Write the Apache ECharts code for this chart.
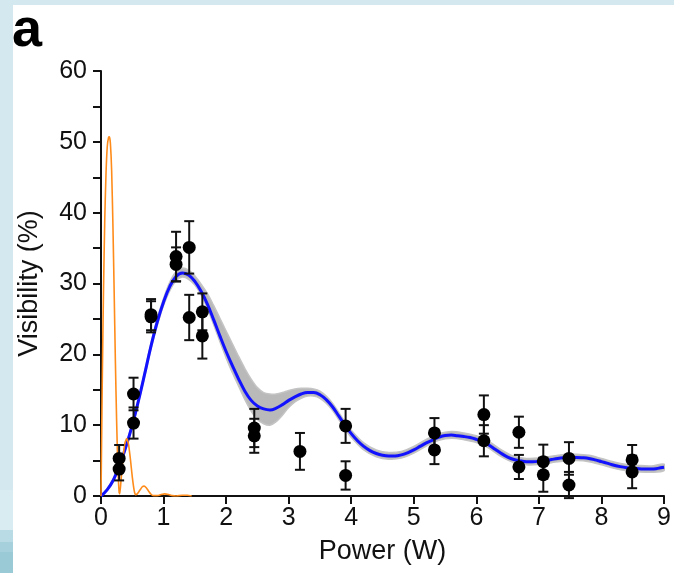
<!DOCTYPE html>
<html>
<head>
<meta charset="utf-8">
<script src="https://cdn.jsdelivr.net/npm/echarts@6/dist/echarts.min.js"></script>
<style>
  html, body { margin: 0; padding: 0; }
  body { width: 674px; height: 573px; background: #d3e8ef; position: relative; overflow: hidden; }
  #paper { position: absolute; left: 13px; top: 5px; right: 0; bottom: 0; background: #ffffff; }
  .strip { position: absolute; left: 0; width: 13px; }
  #chart { position: absolute; left: 0; top: 0; width: 674px; height: 573px; }
</style>
</head>
<body>
<div id="paper"></div>
<div class="strip" style="top:490px;height:40px;background:#d9ecf2;"></div>
<div class="strip" style="top:530px;height:12px;background:#b9dbe5;"></div>
<div class="strip" style="top:542px;height:10px;background:#a6d0dc;"></div>
<div class="strip" style="top:552px;height:21px;background:#9bcad7;"></div>
<div id="chart"></div>
<script>
// ---- data ----
const panelLabel = 'a';
const xAxisTitle = 'Power (W)';
const yAxisTitle = 'Visibility (%)';

// measured points: power (W), visibility (%), error (%)
const ptX = [0.29, 0.29, 0.52, 0.52, 0.80, 0.80, 1.20, 1.20, 1.41, 1.41, 1.62, 1.62, 2.45, 2.45, 3.18, 3.91, 3.91, 5.33, 5.33, 6.12, 6.12, 6.68, 6.68, 7.07, 7.07, 7.48, 7.48, 8.49, 8.49];
const ptY = [5.3, 3.8, 14.4, 10.3, 25.6, 25.3, 33.8, 32.7, 35.1, 25.2, 26.0, 22.6, 9.6, 8.5, 6.3, 9.9, 2.9, 8.9, 6.5, 11.5, 7.8, 9.0, 4.1, 4.85, 3.0, 5.3, 1.55, 5.1, 3.4];
const ptErr = [1.9, 1.6, 2.3, 2.2, 2.2, 2.2, 3.5, 2.4, 3.7, 3.2, 2.6, 3.2, 2.7, 2.4, 2.6, 2.4, 2.0, 2.1, 2.0, 2.7, 2.2, 2.2, 1.7, 2.4, 2.4, 2.3, 1.85, 2.1, 2.3];

// fitted curve (blue)
const fitCurve = [[0,0],[0.1,0.9],[0.2,2.3],[0.3,4.4],[0.4,7.0],[0.5,10.0],[0.6,13.5],[0.7,17.3],[0.8,21.2],[0.9,24.6],[1.0,27.4],[1.1,29.6],[1.2,31.0],[1.3,31.5],[1.4,31.2],[1.5,30.3],[1.6,28.9],[1.7,27.1],[1.8,24.9],[1.9,22.6],[2.0,20.4],[2.1,18.4],[2.2,16.5],[2.3,14.8],[2.4,13.5],[2.5,12.7],[2.6,12.3],[2.7,12.15],[2.8,12.4],[2.9,12.9],[3.0,13.5],[3.1,14.0],[3.2,14.4],[3.3,14.6],[3.4,14.6],[3.5,14.3],[3.6,13.6],[3.7,12.6],[3.8,11.3],[3.9,10.0],[4.0,8.8],[4.1,7.8],[4.2,7.0],[4.3,6.4],[4.4,6.0],[4.5,5.75],[4.6,5.65],[4.7,5.65],[4.8,5.8],[4.9,6.1],[5.0,6.5],[5.1,7.0],[5.2,7.5],[5.3,7.9],[5.4,8.3],[5.5,8.55],[5.6,8.6],[5.7,8.5],[5.8,8.4],[5.9,8.25],[6.0,8.0],[6.1,7.7],[6.2,7.2],[6.3,6.6],[6.4,6.0],[6.5,5.5],[6.6,5.15],[6.7,4.95],[6.8,4.85],[6.9,4.85],[7.0,4.9],[7.1,5.0],[7.2,5.15],[7.3,5.3],[7.4,5.4],[7.5,5.45],[7.6,5.45],[7.7,5.4],[7.8,5.3],[7.9,5.1],[8.0,4.85],[8.1,4.6],[8.2,4.35],[8.3,4.15],[8.4,4.0],[8.5,3.9],[8.6,3.85],[8.7,3.8],[8.8,3.8],[8.9,3.9],[9.0,4.05]];

// confidence band (grey): upper and lower edges
const bandUpper = [[0,0],[0.1,1.0],[0.2,2.5],[0.3,4.6],[0.4,7.3],[0.5,10.3],[0.6,13.8],[0.7,17.7],[0.8,21.6],[0.9,25.1],[1.0,27.9],[1.1,30.2],[1.2,31.7],[1.3,32.2],[1.4,31.9],[1.5,31.1],[1.6,29.9],[1.7,28.6],[1.8,26.9],[1.9,25.1],[2.0,23.3],[2.1,21.5],[2.2,19.7],[2.3,18.0],[2.4,16.5],[2.5,15.3],[2.6,14.6],[2.7,14.4],[2.8,14.4],[2.9,14.6],[3.0,14.9],[3.1,15.1],[3.2,15.2],[3.3,15.2],[3.4,15.1],[3.5,14.8],[3.6,14.1],[3.7,13.1],[3.8,11.8],[3.9,10.5],[4.0,9.3],[4.2,7.5],[4.4,6.5],[4.6,6.15],[4.8,6.3],[5.0,7.0],[5.2,8.0],[5.4,8.8],[5.6,9.1],[5.8,8.9],[6.0,8.5],[6.2,7.7],[6.4,6.5],[6.6,5.6],[6.8,5.3],[7.0,5.35],[7.2,5.6],[7.4,5.85],[7.6,5.9],[7.8,5.75],[8.0,5.3],[8.2,4.8],[8.4,4.45],[8.6,4.3],[8.8,4.25],[9.0,4.5]];
const bandLower = [[0,0],[0.1,0.8],[0.2,2.1],[0.3,4.2],[0.4,6.7],[0.5,9.7],[0.6,13.2],[0.7,16.9],[0.8,20.8],[0.9,24.1],[1.0,26.9],[1.1,29.0],[1.2,30.4],[1.3,30.9],[1.4,30.6],[1.5,29.8],[1.6,28.4],[1.7,26.5],[1.8,24.2],[1.9,21.8],[2.0,19.5],[2.1,17.4],[2.2,15.5],[2.3,13.6],[2.4,12.0],[2.5,10.8],[2.6,10.2],[2.7,10.0],[2.8,10.5],[2.9,11.4],[3.0,12.5],[3.1,13.3],[3.2,13.8],[3.3,14.1],[3.4,14.1],[3.5,13.8],[3.6,13.1],[3.7,12.1],[3.8,10.8],[3.9,9.5],[4.0,8.3],[4.2,6.5],[4.4,5.55],[4.6,5.2],[4.8,5.35],[5.0,6.05],[5.2,7.05],[5.4,7.85],[5.6,8.15],[5.8,7.95],[6.0,7.55],[6.2,6.75],[6.4,5.55],[6.6,4.7],[6.8,4.4],[7.0,4.45],[7.2,4.7],[7.4,4.95],[7.6,5.0],[7.8,4.85],[8.0,4.4],[8.2,3.9],[8.4,3.55],[8.6,3.4],[8.8,3.35],[9.0,3.6]];

// orange reference curve
const orangeCurve = [[0,0],[0.01,8],[0.02,16],[0.04,29],[0.06,39],[0.08,45.5],[0.10,49.3],[0.12,50.6],[0.135,50.7],[0.15,49.8],[0.17,46],[0.19,38.5],[0.21,29],[0.23,19],[0.25,10.5],[0.27,4],[0.29,0.5],[0.30,0.3],[0.32,2.2],[0.35,5.2],[0.38,7.4],[0.41,8.1],[0.44,7.3],[0.47,5.2],[0.50,2.7],[0.53,0.8],[0.55,0.2],[0.58,0.3],[0.62,0.8],[0.66,1.3],[0.69,1.4],[0.72,1.2],[0.76,0.7],[0.80,0.25],[0.84,0.05],[0.90,0.05],[0.96,0.2],[1.02,0.3],[1.08,0.2],[1.14,0.05],[1.2,0],[1.3,0.1],[1.38,0.1],[1.45,0]];

const xMin = 0, xMax = 9, xStep = 1;
const yMin = 0, yMax = 60, yStep = 10;

// ---- chart ----
const FONT = '"Liberation Sans", Arial, Helvetica, sans-serif';
const chart = echarts.init(document.getElementById('chart'), null, { renderer: 'canvas' });

const pointData = ptX.map((x, i) => [x, ptY[i], ptErr[i]]);

const option = {
  backgroundColor: 'transparent',
  animation: false,
  graphic: [{
    type: 'text', left: 12, top: 4,
    style: { text: panelLabel, font: 'bold 54px ' + FONT, fill: '#000' }
  }],
  grid: { left: 101, right: 6, top: 71, bottom: 77, containLabel: false },
  xAxis: {
    type: 'value', min: xMin, max: xMax, interval: xStep,
    name: xAxisTitle, nameLocation: 'middle', nameGap: 42,
    nameTextStyle: { fontSize: 27, color: '#111', fontFamily: FONT },
    axisLine: { show: true, onZero: false, lineStyle: { color: '#111', width: 2 } },
    axisTick: { show: true, inside: false, length: 8, lineStyle: { color: '#111', width: 2 } },
    axisLabel: { fontSize: 25, color: '#111', fontFamily: FONT, margin: 10 },
    splitLine: { show: false }
  },
  yAxis: {
    type: 'value', min: yMin, max: yMax, interval: yStep,
    name: yAxisTitle, nameLocation: 'middle', nameGap: 58, nameRotate: 90,
    nameTextStyle: { fontSize: 27, color: '#111', fontFamily: FONT },
    axisLine: { show: true, lineStyle: { color: '#111', width: 2 } },
    axisTick: { show: true, inside: false, length: 8, lineStyle: { color: '#111', width: 2 } },
    minorTick: { show: true, splitNumber: 2, length: 8, lineStyle: { color: '#111', width: 2 } },
    axisLabel: { fontSize: 25, color: '#111', fontFamily: FONT, margin: 14 },
    splitLine: { show: false }
  },
  series: [
    {
      type: 'custom', name: 'band', z: 1, clip: true,
      data: [[0, 0]],
      renderItem: function (params, api) {
        const pts = [];
        bandUpper.forEach(p => pts.push(api.coord(p)));
        for (let i = bandLower.length - 1; i >= 0; i--) pts.push(api.coord(bandLower[i]));
        return {
          type: 'polygon',
          shape: { points: pts, smooth: 0.3 },
          style: { fill: '#b9b9b9', stroke: '#c4c4c4', lineWidth: 1.5 }
        };
      }
    },
    {
      type: 'line', name: 'fit', z: 3, data: fitCurve, smooth: 0.4, showSymbol: false,
      lineStyle: { color: '#1212ff', width: 3 }
    },
    {
      type: 'line', name: 'orange', z: 4, data: orangeCurve, smooth: 0.2, showSymbol: false,
      lineStyle: { color: '#ff8c1a', width: 1.6 }
    },
    {
      type: 'custom', name: 'errors', z: 5,
      data: pointData,
      renderItem: function (params, api) {
        const x = api.value(0), y = api.value(1), e = api.value(2);
        const top = api.coord([x, y + e]);
        const bot = api.coord([x, y - e]);
        const hw = 5;
        const st = { stroke: '#111', lineWidth: 2 };
        return {
          type: 'group',
          children: [
            { type: 'line', shape: { x1: top[0], y1: top[1], x2: bot[0], y2: bot[1] }, style: st },
            { type: 'line', shape: { x1: top[0] - hw, y1: top[1], x2: top[0] + hw, y2: top[1] }, style: st },
            { type: 'line', shape: { x1: bot[0] - hw, y1: bot[1], x2: bot[0] + hw, y2: bot[1] }, style: st }
          ]
        };
      }
    },
    {
      type: 'scatter', name: 'points', z: 6, data: pointData.map(d => [d[0], d[1]]),
      symbol: 'circle', symbolSize: 13,
      itemStyle: { color: '#000', opacity: 1 }
    }
  ]
};
chart.setOption(option);
</script>
</body>
</html>
